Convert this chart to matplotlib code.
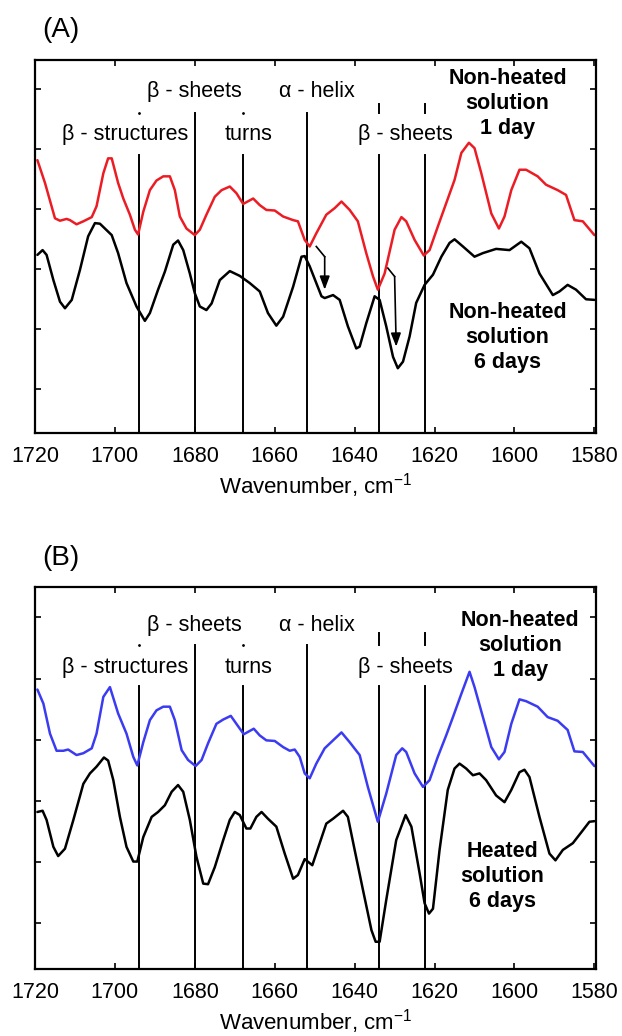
import matplotlib
matplotlib.use('Agg')
from matplotlib import pyplot as plt
import numpy as np

plt.rcParams['font.family'] = ['Liberation Sans', 'DejaVu Sans']
plt.rcParams['mathtext.fontset'] = 'custom'
plt.rcParams['mathtext.rm'] = 'Liberation Sans'

# (A) non-heated solution, 1 day (red)
wn_a1 = [1719.4, 1717.5, 1715.0, 1713.75, 1712.1, 1711.25, 1709.6, 1707.9, 1705.8, 1704.6,
         1702.9, 1701.7, 1700.8, 1699.2, 1697.9, 1696.25, 1695.0, 1694.2, 1692.9, 1691.25,
         1689.6, 1687.9, 1686.25, 1685.0, 1683.75, 1682.1, 1680.0, 1678.75, 1677.1, 1675.0,
         1673.3, 1671.25, 1669.6, 1667.9, 1665.4, 1663.75, 1662.1, 1660.0, 1657.9, 1655.4,
         1654.2, 1652.5, 1651.25, 1649.6, 1647.1, 1645.0, 1643.3, 1641.25, 1639.2, 1637.1,
         1635.4, 1634.2, 1632.5, 1630.0, 1628.3, 1627.1, 1625.0, 1622.7, 1621.25, 1619.2,
         1617.1, 1615.0, 1613.3, 1611.4, 1610.0, 1608.3, 1605.8, 1603.9, 1602.5, 1600.8,
         1598.75, 1597.1, 1594.2, 1592.1, 1589.2, 1587.1, 1585.0, 1582.9, 1580.0]
ab_a1 = [3.81, 3.43, 2.84, 2.80, 2.83, 2.81, 2.74, 2.79, 2.86, 3.04,
         3.59, 3.84, 3.84, 3.43, 3.17, 2.90, 2.65, 2.57, 2.95, 3.31,
         3.47, 3.54, 3.54, 3.31, 2.87, 2.67, 2.56, 2.65, 2.90, 3.20,
         3.31, 3.37, 3.26, 3.08, 3.17, 3.06, 2.98, 2.97, 2.87, 2.81,
         2.79, 2.48, 2.37, 2.59, 2.90, 3.01, 3.12, 2.98, 2.79, 2.26,
         1.87, 1.65, 1.92, 2.65, 2.86, 2.79, 2.48, 2.22, 2.31, 2.70,
         3.09, 3.48, 3.93, 4.10, 4.01, 3.59, 2.92, 2.67, 2.87, 3.31,
         3.65, 3.65, 3.54, 3.40, 3.31, 3.23, 2.81, 2.79, 2.56]

# (A) non-heated solution, 6 days (black)
wn_a6 = [1719.4, 1718.1, 1717.1, 1715.4, 1713.75, 1712.5, 1710.8, 1708.75, 1706.7, 1705.0,
         1703.75, 1700.8, 1699.2, 1697.1, 1694.6, 1692.5, 1691.25, 1689.2, 1687.5, 1685.4,
         1684.2, 1682.9, 1681.25, 1680.0, 1678.75, 1677.1, 1675.8, 1673.75, 1671.25, 1668.75,
         1666.25, 1663.75, 1661.7, 1659.6, 1657.9, 1655.4, 1653.3, 1652.5, 1651.25, 1649.6,
         1648.3, 1647.5, 1645.4, 1643.75, 1641.7, 1639.6, 1638.75, 1637.1, 1635.0, 1633.75,
         1632.1, 1630.4, 1629.2, 1627.9, 1626.25, 1624.6, 1622.5, 1620.4, 1618.3, 1616.25,
         1615.0, 1612.9, 1610.0, 1607.9, 1604.6, 1601.25, 1598.3, 1596.25, 1593.75, 1590.4,
         1588.75, 1586.7, 1584.6, 1582.1, 1580.0]
ab_a6 = [2.23, 2.31, 2.23, 1.81, 1.45, 1.34, 1.48, 1.98, 2.54, 2.76,
         2.75, 2.56, 2.26, 1.76, 1.37, 1.13, 1.26, 1.65, 1.95, 2.40,
         2.47, 2.31, 1.92, 1.59, 1.37, 1.31, 1.42, 1.81, 1.96, 1.88,
         1.76, 1.62, 1.26, 1.05, 1.20, 1.70, 2.20, 2.21, 2.04, 1.76,
         1.54, 1.51, 1.56, 1.48, 1.04, 0.67, 0.70, 1.09, 1.54, 1.48,
         1.04, 0.53, 0.34, 0.45, 0.87, 1.43, 1.73, 1.90, 2.20, 2.43,
         2.49, 2.37, 2.20, 2.26, 2.33, 2.31, 2.45, 2.34, 1.92, 1.56,
         1.62, 1.73, 1.65, 1.49, 1.48]

# (B) non-heated solution, 1 day (blue)
wn_b1 = [1719.4, 1717.9, 1716.25, 1714.6, 1712.9, 1711.7, 1709.6, 1707.9, 1705.8, 1704.6,
         1702.9, 1701.25, 1699.2, 1697.1, 1695.4, 1694.4, 1692.9, 1691.25, 1689.6, 1687.9,
         1686.25, 1685.0, 1683.3, 1681.7, 1679.8, 1678.3, 1676.7, 1674.6, 1672.9, 1671.0,
         1669.6, 1667.75, 1665.25, 1663.75, 1662.1, 1660.0, 1657.9, 1656.25, 1655.0, 1653.75,
         1652.5, 1651.25, 1649.6, 1647.5, 1645.4, 1643.3, 1641.25, 1638.75, 1636.7, 1634.2,
         1632.1, 1629.6, 1628.1, 1627.1, 1625.0, 1622.9, 1621.25, 1619.2, 1617.1, 1615.4,
         1613.3, 1611.25, 1610.0, 1607.9, 1605.8, 1603.9, 1602.5, 1600.8, 1598.75, 1597.1,
         1594.2, 1591.7, 1589.2, 1586.7, 1585.0, 1582.9, 1580.0]
ab_b1 = [3.82, 3.59, 3.10, 2.82, 2.82, 2.84, 2.75, 2.78, 2.86, 3.10,
         3.70, 3.86, 3.43, 3.10, 2.72, 2.58, 2.96, 3.32, 3.48, 3.54,
         3.54, 3.32, 2.83, 2.67, 2.57, 2.67, 2.94, 3.26, 3.33, 3.39,
         3.26, 3.09, 3.18, 3.07, 2.99, 2.98, 2.88, 2.82, 2.84, 2.72,
         2.45, 2.37, 2.61, 2.86, 2.99, 3.12, 2.96, 2.75, 2.23, 1.66,
         2.12, 2.75, 2.86, 2.80, 2.45, 2.23, 2.34, 2.72, 3.07, 3.37,
         3.75, 4.11, 3.86, 3.37, 2.88, 2.68, 2.80, 3.26, 3.66, 3.63,
         3.54, 3.37, 3.31, 3.16, 2.81, 2.80, 2.57]

# (B) heated solution, 6 days (black)
wn_b6 = [1719.4, 1718.1, 1717.1, 1715.4, 1714.2, 1712.5, 1710.4, 1707.9, 1706.25, 1704.6,
         1702.75, 1701.7, 1700.4, 1698.75, 1697.1, 1695.4, 1694.4, 1692.9, 1690.8, 1689.2,
         1687.5, 1685.8, 1684.2, 1682.9, 1681.25, 1679.6, 1677.9, 1676.7, 1675.0, 1672.9,
         1671.25, 1670.0, 1668.75, 1667.1, 1666.1, 1664.6, 1663.3, 1661.7, 1659.6, 1657.5,
         1655.4, 1654.2, 1652.5, 1650.6, 1648.75, 1647.1, 1645.4, 1642.9, 1641.7, 1640.0,
         1637.9, 1635.8, 1634.75, 1633.75, 1632.1, 1629.6, 1627.25, 1625.8, 1623.75, 1622.5,
         1621.4, 1620.4, 1618.75, 1616.7, 1615.0, 1613.75, 1612.1, 1610.4, 1608.75, 1607.1,
         1604.6, 1602.5, 1600.8, 1598.75, 1597.5, 1596.25, 1593.75, 1591.25, 1589.75, 1587.9,
         1585.4, 1582.9, 1581.25, 1580.0]
ab_b6 = [1.82, 1.84, 1.69, 1.25, 1.10, 1.22, 1.69, 2.28, 2.45, 2.56,
         2.71, 2.66, 2.34, 1.74, 1.25, 1.01, 1.01, 1.41, 1.74, 1.82,
         1.93, 2.15, 2.26, 2.15, 1.69, 1.09, 0.65, 0.64, 0.92, 1.36,
         1.69, 1.82, 1.77, 1.55, 1.55, 1.74, 1.82, 1.71, 1.58, 1.14,
         0.73, 0.79, 1.05, 0.95, 1.31, 1.63, 1.71, 1.84, 1.74, 1.20,
         0.54, -0.11, -0.30, -0.30, 0.38, 1.36, 1.77, 1.58, 0.82, 0.33,
         0.16, 0.24, 1.20, 2.18, 2.53, 2.61, 2.53, 2.42, 2.45, 2.34,
         2.09, 1.98, 2.18, 2.47, 2.51, 2.39, 1.74, 1.14, 1.03, 1.20,
         1.31, 1.52, 1.66, 1.67]

# band assignment positions (cm-1)
band_full = [1694, 1668, 1634, 1622.5]   # lines starting low
band_high = [1680, 1652]                 # lines starting high
band_dots = [1694, 1668]
band_ticks = [1634, 1622.5]

W, H = 622, 1036
fig = plt.figure(figsize=(W / 100, H / 100), dpi=100)

LBL = 15.5


def setup(ax, ylo, yhi):
    ax.set_xlim(1720, 1579.6)
    ax.set_ylim(ylo, yhi)
    ax.set_xticks(np.arange(1720, 1579, -20))
    ax.set_yticks(np.arange(0, 6))
    ax.set_yticklabels([])
    ax.tick_params(direction='in', top=True, right=True, length=4, width=1.2,
                   labelsize=15.5, pad=9)
    for s in ax.spines.values():
        s.set_linewidth(1.6)
    ax.set_xlabel(r'Wavenumber, cm$^{\mathregular{-1}}$', fontsize=16, labelpad=3)


def bands(ax, ylo, y_low, y_high, y_tick):
    for w in band_full:
        ax.plot([w, w], [ylo, y_low], color='black', lw=1.4)
    for w in band_high:
        ax.plot([w, w], [ylo, y_high], color='black', lw=1.4)
    for w in band_dots:
        ax.plot([w], [y_high], marker='.', color='black', ms=2)
    for w in band_ticks:
        ax.plot([w, w], [y_high, y_tick], color='black', lw=1.4)


def labels(ax, y_top, y_mid):
    kw = dict(fontsize=LBL, ha='center', va='center')
    ax.text(1680, y_top, 'β - sheets', **kw)
    ax.text(1649.5, y_top, 'α - helix', **kw)
    ax.text(1697.5, y_mid, 'β - structures', **kw)
    ax.text(1666.5, y_mid, 'turns', **kw)
    ax.text(1627.3, y_mid, 'β - sheets', **kw)


def curve(ax, x, y, c):
    ax.plot(x, y, color=c, lw=1.8, solid_joinstyle='round', solid_capstyle='round')


def note(ax, x, y, s):
    ax.text(x, y, s, fontsize=LBL, fontweight='bold', ha='center', va='center',
            linespacing=1.25)


# panel A
axA = fig.add_axes([35 / W, 1 - 433 / H, 561 / W, 373 / H])
yloA = -0.74
setup(axA, yloA, 5.48)
bands(axA, yloA, 3.90, 4.60, 4.74)
curve(axA, wn_a1, ab_a1, '#ec1c24')
curve(axA, wn_a6, ab_a6, 'black')
labels(axA, 4.95, 4.23)
note(axA, 1601.75, 4.76, 'Non-heated\nsolution\n1 day')
note(axA, 1601.75, 0.85, 'Non-heated\nsolution\n6 days')
# shift arrows
axA.plot([1649.6, 1647.5], [2.37, 2.20], color='black', lw=1.2)
axA.annotate('', xy=(1647.5, 1.65), xytext=(1647.5, 2.20),
             arrowprops=dict(arrowstyle='-|>,head_length=0.8,head_width=0.3',
                             color='black', lw=1.2, shrinkA=0, shrinkB=0))
axA.plot([1631.7, 1630.0], [2.01, 1.87], color='black', lw=1.2)
axA.annotate('', xy=(1629.6, 0.70), xytext=(1630.0, 1.87),
             arrowprops=dict(arrowstyle='-|>,head_length=0.8,head_width=0.3',
                             color='black', lw=1.2, shrinkA=0, shrinkB=0))
fig.text(61 / W, 1 - 30 / H, '(A)', fontsize=20, ha='center', va='center')

# panel B
axB = fig.add_axes([35 / W, 1 - 969.3 / H, 561 / W, 382.6 / H])
yloB = -0.75
setup(axB, yloB, 5.50)
bands(axB, yloB, 3.87, 4.54, 4.74)
curve(axB, wn_b1, ab_b1, '#3b3bf2')
curve(axB, wn_b6, ab_b6, 'black')
labels(axB, 4.87, 4.18)
note(axB, 1598.6, 4.54, 'Non-heated\nsolution\n1 day')
note(axB, 1603, 0.76, 'Heated\nsolution\n6 days')
fig.text(61 / W, 1 - 558 / H, '(B)', fontsize=20, ha='center', va='center')

fig.savefig('out.png', dpi=100)
